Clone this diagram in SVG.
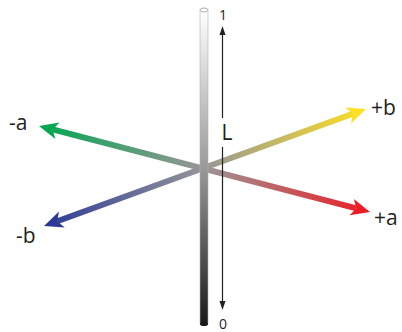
<svg xmlns="http://www.w3.org/2000/svg" width="402" height="332" viewBox="0 0 402 332">
<defs>
<style>
.lbl{font-family:"Open Sans","Liberation Sans",Arial,sans-serif;font-size:21px;fill:#231f20}
.num{font-family:"Open Sans","Liberation Sans",Arial,sans-serif;font-size:14px;fill:#231f20}
.ax{fill:none;stroke-width:6}
.vline{stroke:#231f20;stroke-width:1.2;fill:none}
</style>
<linearGradient id="gA" gradientUnits="userSpaceOnUse" x1="39" y1="126" x2="370" y2="212">
<stop offset="0" stop-color="#00a651"/>
<stop offset="0.5" stop-color="#9b9696"/>
<stop offset="1" stop-color="#ed1c24"/>
</linearGradient>
<linearGradient id="gB" gradientUnits="userSpaceOnUse" x1="44" y1="226" x2="366" y2="109">
<stop offset="0" stop-color="#2b3a97"/>
<stop offset="0.5" stop-color="#979797"/>
<stop offset="1" stop-color="#fde021"/>
</linearGradient>
<linearGradient id="gL" x1="0" y1="0" x2="0" y2="1">
<stop offset="0" stop-color="#ffffff"/>
<stop offset="0.5" stop-color="#9a9a9a"/>
<stop offset="1" stop-color="#1a1a1a"/>
</linearGradient>
<path id="head" d="M0,0 L-19,-8.5 L-14,0 L-19,8.5 Z"/>
</defs>

<g id="connectors">
<line class="ax" x1="52.6" y1="129.4" x2="356.4" y2="208.4" stroke="url(#gA)"/>
<line class="ax" x1="57.2" y1="221.2" x2="352.8" y2="113.8" stroke="url(#gB)"/>
<use href="#head" transform="translate(39,126) rotate(194.2)" fill="#00a651"/>
<use href="#head" transform="translate(370,212) rotate(14.9)" fill="#ed1c24"/>
<use href="#head" transform="translate(366,109) rotate(-20.1)" fill="#fde021"/>
<use href="#head" transform="translate(44,226) rotate(160.2)" fill="#2b3a97"/>
<line class="vline" x1="222.5" y1="32" x2="222.5" y2="118"/>
<path d="M222.5,26 L219.5,35 L225.5,35 Z" fill="#231f20"/>
<line class="vline" x1="222.5" y1="147" x2="222.5" y2="303"/>
<path d="M222.5,310 L219.5,301 L225.5,301 Z" fill="#231f20"/>
</g>

<g id="L-axis">
<rect x="200" y="10" width="8" height="314" fill="url(#gL)" stroke="#b0b0b0" stroke-width="0.6"/>
<ellipse cx="204" cy="324" rx="4" ry="2" fill="#1a1a1a"/>
<ellipse cx="204" cy="10" rx="4" ry="2" fill="#ffffff" stroke="#9a9a9a" stroke-width="0.8"/>
</g>

<g id="labels">
<text class="num" x="223" y="19.5" text-anchor="middle">1</text>
<text class="num" x="223" y="329" text-anchor="middle">0</text>
<text class="lbl" x="227" y="140" text-anchor="middle">L</text>
<text class="lbl" x="9" y="130">-a</text>
<text class="lbl" x="374" y="225">+a</text>
<text class="lbl" x="371" y="115">+b</text>
<text class="lbl" x="16" y="243">-b</text>
</g>
</svg>
